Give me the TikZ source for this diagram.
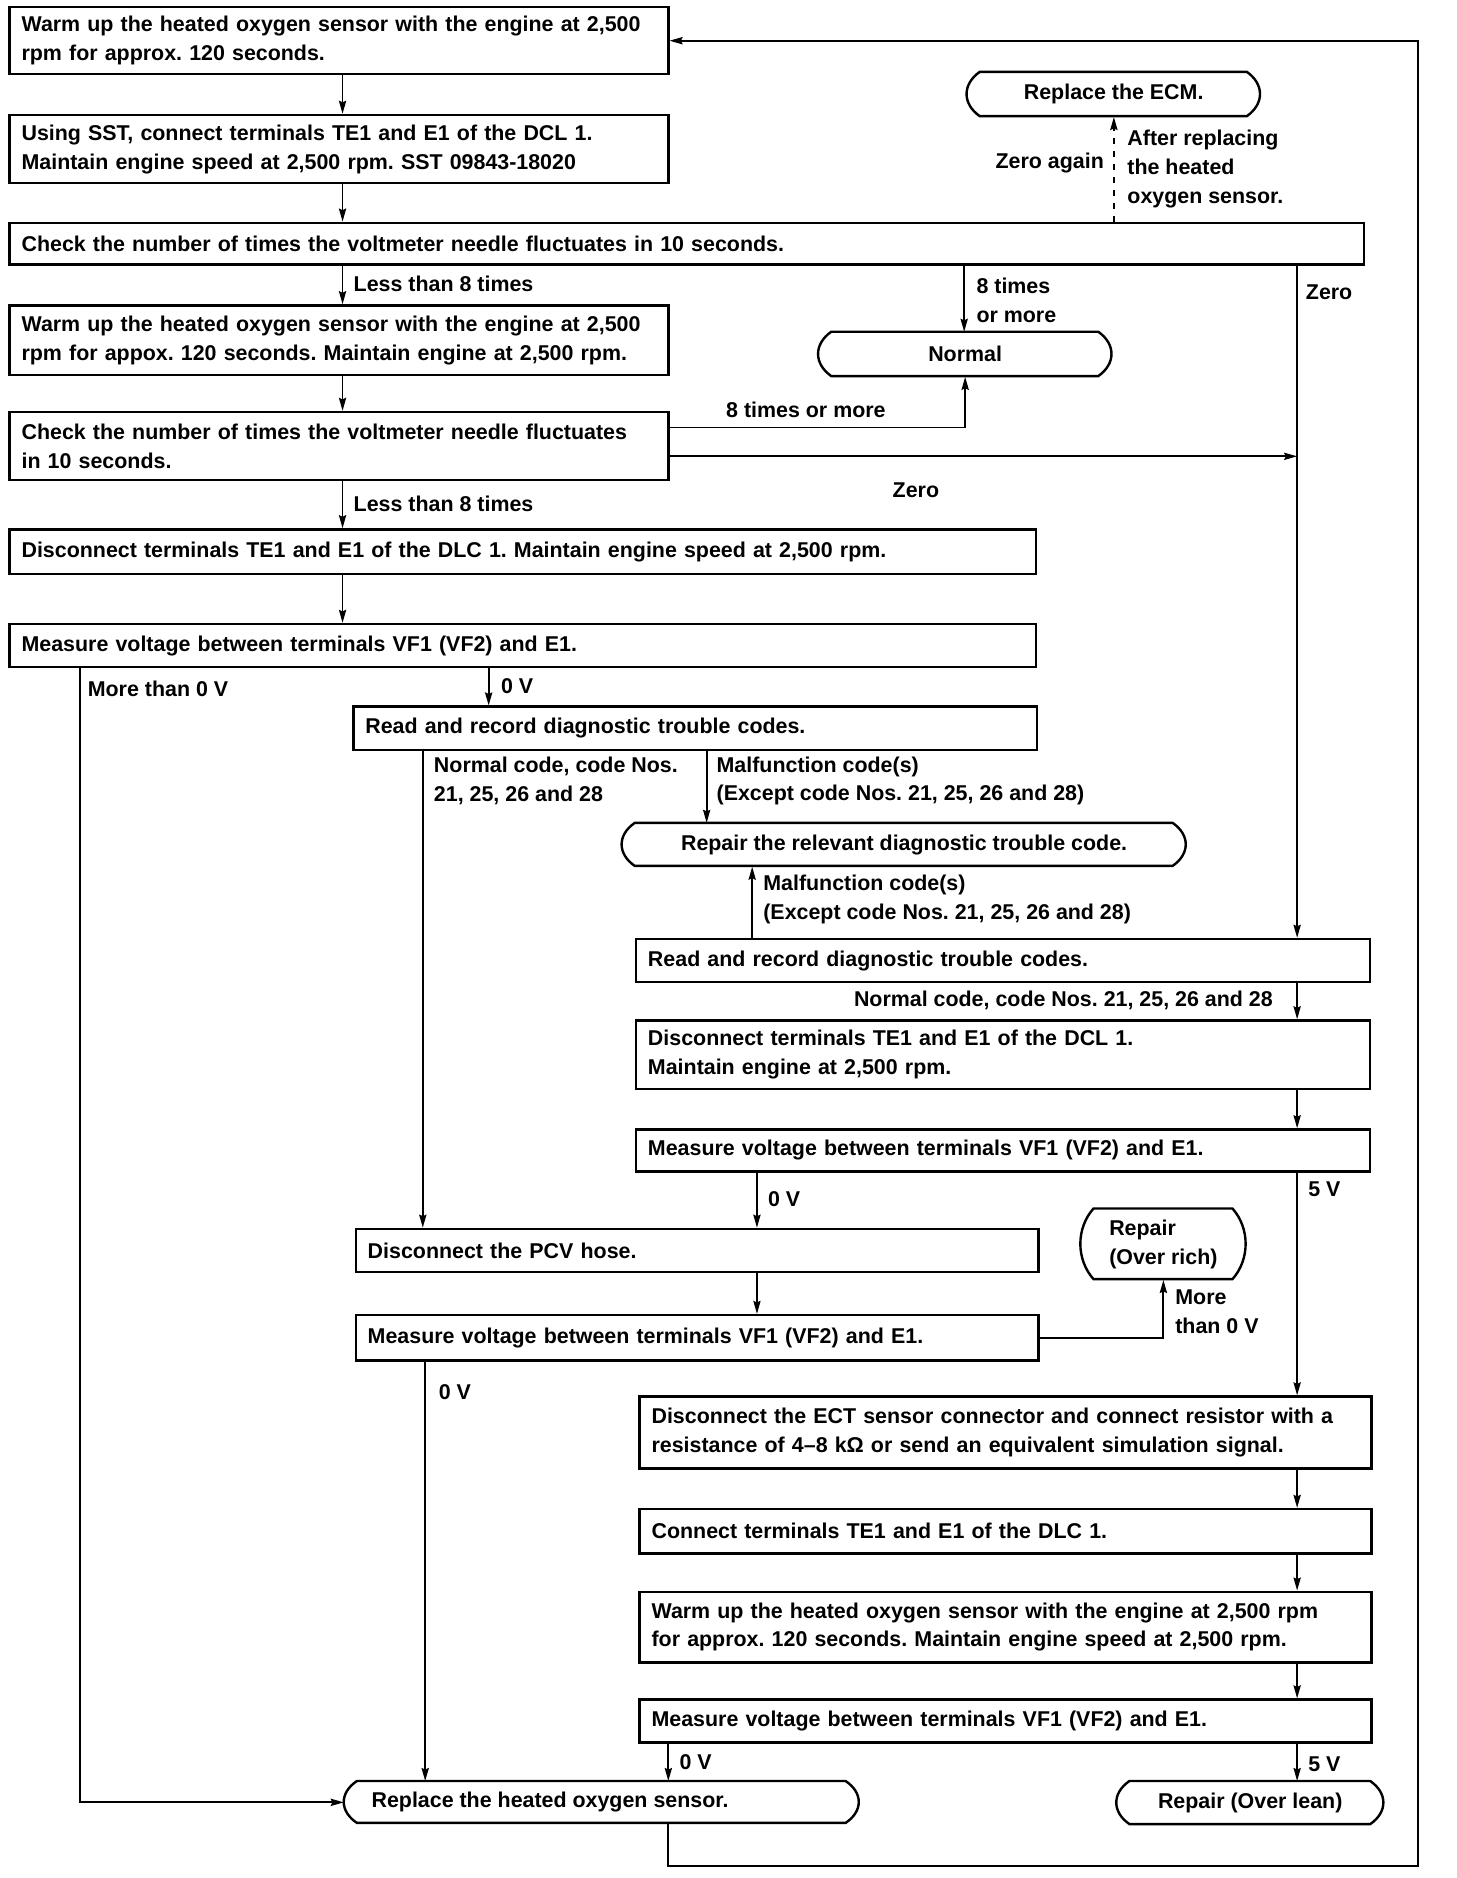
\documentclass[tikz,border=0pt]{standalone}
\usepackage{fontspec}
\setmainfont{Liberation Sans}
\usetikzlibrary{arrows.meta,calc}
\frenchspacing
\def\U{0.5987}
\newcommand\txtfont{\fontsize{10.7}{14.4}\selectfont\bfseries}
\newcommand\rbox[6]{%
  \pgfmathsetmacro\bw{(#4-#2)*\U}%
  \pgfmathsetmacro\bh{(#5-#3)*\U}%
  \pgfmathsetmacro\tw{\bw-12}%
  \node[rbx, minimum width=\bw pt, minimum height=\bh pt, text width=\tw pt, anchor=north west] (#1) at (#2,#3) {#6};}
\newcommand\tbox[7][]{%
  \pgfmathsetmacro\bw{(#5-#3)*\U}%
  \pgfmathsetmacro\bh{(#6-#4)*\U}%
  \pgfmathsetmacro\hh{#6-#4}%
  \node[tbx, minimum width=\bw pt, minimum height=\bh pt, anchor=north west, #1] (#2) at (#3,#4) {#7};
  \draw[boxline] ({#3+11},#4) -- ({#5-11},#4)
    .. controls ({#5+3.67},{#4+0.28*\hh}) and ({#5+3.67},{#6-0.28*\hh}) .. ({#5-11},#6)
    -- ({#3+11},#6)
    .. controls ({#3-3.67},{#6-0.28*\hh}) and ({#3-3.67},{#4+0.28*\hh}) .. ({#3+11},#4) -- cycle;}
\begin{document}
\begin{tikzpicture}[x=0.5987pt,y=-0.5987pt,
  boxline/.style={line width=1.2pt, line join=miter},
  rbx/.style={boxline, draw, rectangle, inner xsep=6pt, inner ysep=0pt, align=left, font=\txtfont},
  tbx/.style={rectangle, inner sep=0pt, align=center, font=\txtfont},
  arr/.style={line width=0.9pt, -{Stealth[length=6.5pt,width=3.6pt,inset=0.8pt]}},
  ln/.style={line width=0.9pt},
  lbl/.style={inner sep=0pt, align=left, font=\txtfont}]
\useasboundingbox (0,0) rectangle (1216,1568);
% boxes
\rbox{b1}{7}{5}{557}{61}{Warm up the heated oxygen sensor with the engine at 2,500\\rpm for approx. 120 seconds.}
\rbox{b2}{7}{95}{557}{152}{Using SST, connect terminals TE1 and E1 of the DCL 1.\\Maintain engine speed at 2,500 rpm. SST 09843-18020}
\rbox{b3}{7}{185}{1138}{220}{Check the number of times the voltmeter needle fluctuates in 10 seconds.}
\rbox{b4}{7}{254}{557}{312}{Warm up the heated oxygen sensor with the engine at 2,500\\rpm for appox. 120 seconds. Maintain engine at 2,500 rpm.}
\rbox{b5}{7}{343}{557}{400}{Check the number of times the voltmeter needle fluctuates\\in 10 seconds.}
\rbox{b6}{7}{441}{864}{478}{Disconnect terminals TE1 and E1 of the DLC 1. Maintain engine speed at 2,500 rpm.}
\rbox{b7}{7}{520}{864}{556}{Measure voltage between terminals VF1 (VF2) and E1.}
\rbox{b8}{294}{589}{865}{625}{Read and record diagnostic trouble codes.}
\rbox{b9}{530}{783}{1143}{819}{Read and record diagnostic trouble codes.}
\rbox{b10}{530}{851}{1143}{908}{Disconnect terminals TE1 and E1 of the DCL 1.\\Maintain engine at 2,500 rpm.}
\rbox{b11}{530}{942}{1143}{977}{Measure voltage between terminals VF1 (VF2) and E1.}
\rbox{b12}{296}{1025}{866}{1061}{Disconnect the PCV hose.}
\rbox{b13}{296}{1097}{866}{1135}{Measure voltage between terminals VF1 (VF2) and E1.}
\rbox{b14}{533}{1165}{1144}{1225}{Disconnect the ECT sensor connector and connect resistor with a\\resistance of 4--8 kΩ or send an equivalent simulation signal.}
\rbox{b15}{533}{1259}{1144}{1296}{Connect terminals TE1 and E1 of the DLC 1.}
\rbox{b16}{533}{1328}{1144}{1387}{Warm up the heated oxygen sensor with the engine at 2,500 rpm\\for approx. 120 seconds. Maintain engine speed at 2,500 rpm.}
\rbox{b17}{533}{1418}{1144}{1454}{Measure voltage between terminals VF1 (VF2) and E1.}
% terminals
\tbox{t6}{807}{60}{1052}{97}{Replace the ECM.}
\tbox{t5}{683}{277}{928}{314}{Normal}
\tbox{t1}{519}{687}{990}{723}{Repair the relevant diagnostic trouble code.}
\tbox[align=left]{t2}{902}{1009}{1040}{1068}{Repair\\(Over rich)}
\tbox{t3}{287}{1487}{717}{1522}{\makebox[230pt][l]{Replace the heated oxygen sensor.}}
\tbox{t4}{932}{1487}{1155}{1523}{Repair (Over lean)}
% connectors
\draw[arr] (b1.south -| 286,0) -- (b2.north -| 286,0);
\draw[arr] (b2.south -| 286,0) -- (b3.north -| 286,0);
\draw[arr] (b3.south -| 286,0) -- (b4.north -| 286,0);
\draw[arr] (b4.south -| 286,0) -- (b5.north -| 286,0);
\draw[arr] (b5.south -| 286,0) -- (b6.north -| 286,0);
\draw[arr] (b6.south -| 286,0) -- (b7.north -| 286,0);
\draw[arr] (b7.south -| 408,0) -- (b8.north -| 408,0);
\draw[arr] (b7.south -| 67,0) |- (t3.west);
\draw[arr] (b8.south -| 353,0) -- (b12.north -| 353,0);
\draw[arr] (b8.south -| 590,0) -- (t1.north -| 590,0);
\draw[arr] (b9.north -| 628,0) -- (t1.south -| 628,0);
\draw[arr] (b3.south -| 1083,0) -- (b9.north -| 1083,0);
\draw[arr] (b9.south -| 1083,0) -- (b10.north -| 1083,0);
\draw[arr] (b10.south -| 1083,0) -- (b11.north -| 1083,0);
\draw[arr] (b11.south -| 632,0) -- (b12.north -| 632,0);
\draw[arr] (b11.south -| 1083,0) -- (b14.north -| 1083,0);
\draw[arr] (b12.south -| 632,0) -- (b13.north -| 632,0);
\draw[arr] (b13.east) -| (t2.south);
\draw[arr] (b13.south -| 355,0) -- (t3.north -| 355,0);
\draw[arr] (b14.south -| 1083,0) -- (b15.north -| 1083,0);
\draw[arr] (b15.south -| 1083,0) -- (b16.north -| 1083,0);
\draw[arr] (b16.south -| 1083,0) -- (b17.north -| 1083,0);
\draw[arr] (b17.south -| 558,0) -- (t3.north -| 558,0);
\draw[arr] (b17.south -| 1083,0) -- (t4.north -| 1083,0);
\coordinate (loopc) at (1184,1558);
\draw[arr] (t3.south -| 558,0) |- (loopc) |- (b1.east);
\draw[arr] (b3.south -| 805,0) -- (t5.north -| 805,0);
\draw[arr] (b5.east |- 0,357) -| (t5.south);
\coordinate (zj) at (1083,381);
\draw[arr] (b5.east |- 0,381) -- (zj);
\draw[arr, dash pattern=on 3pt off 3.5pt] (b3.north -| 930,0) -- (t6.south -| 930,0);
% labels
\node[lbl, anchor=west] (l1) at (295,237) {Less than 8 times};
\node[lbl, anchor=west] (l2) at (295,421) {Less than 8 times};
\node[lbl, anchor=west] (l3) at (815,251) {8 times\\or more};
\node[lbl, anchor=west] (l4) at (606,342) {8 times or more};
\node[lbl, anchor=west] (l5) at (745,409) {Zero};
\node[lbl, anchor=west] (l6) at (1090,244) {Zero};
\node[lbl, anchor=east] (l7) at (922,136) {Zero again};
\node[lbl, anchor=west] (l8) at (941,141) {After replacing\\the heated\\oxygen sensor.};
\node[lbl, anchor=west] (l9) at (73,575) {More than 0 V};
\node[lbl, anchor=west] (l10) at (418,573) {0 V};
\node[lbl, anchor=west] (l11) at (362,652) {Normal code, code Nos.\\21, 25, 26 and 28};
\node[lbl, anchor=west] (l12) at (598,652) {Malfunction code(s)\\(Except code Nos. 21, 25, 26 and 28)};
\node[lbl, anchor=west] (l13) at (637,751) {Malfunction code(s)\\(Except code Nos. 21, 25, 26 and 28)};
\node[lbl, anchor=east] (l14) at (1063,835) {Normal code, code Nos. 21, 25, 26 and 28};
\node[lbl, anchor=west] (l15) at (641,1001) {0 V};
\node[lbl, anchor=west] (l16) at (1092,993) {5 V};
\node[lbl, anchor=west] (l17) at (981,1095) {More\\than 0 V};
\node[lbl, anchor=west] (l18) at (366,1162) {0 V};
\node[lbl, anchor=west] (l19) at (567,1471) {0 V};
\node[lbl, anchor=west] (l20) at (1092,1473) {5 V};
\end{tikzpicture}
\end{document}
